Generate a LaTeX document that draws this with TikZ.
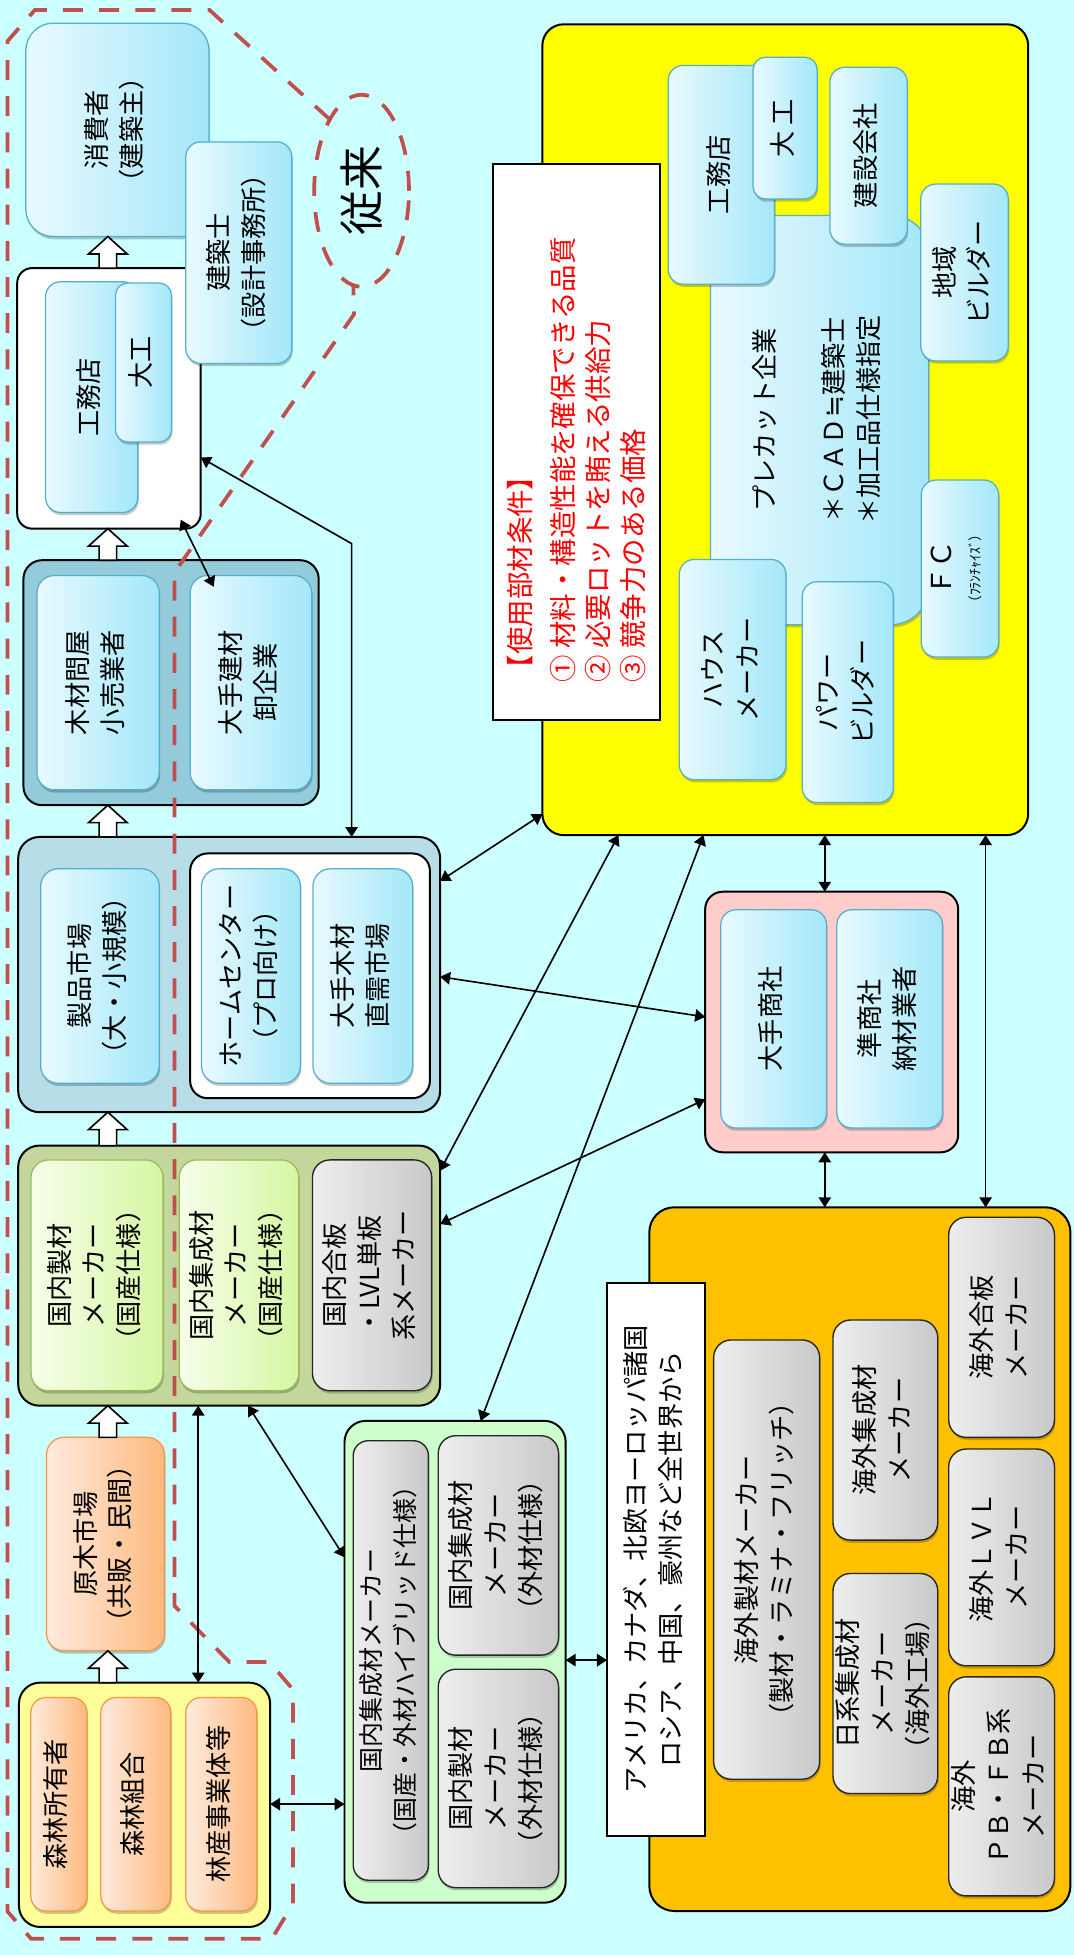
\documentclass[tikz,border=0pt]{standalone}
\usepackage{fontspec}
\usepackage{graphicx}
\setmainfont{Noto Sans CJK JP}
\newfontfamily\dvsym{DejaVu Sans}
\usetikzlibrary{arrows.meta,shadows,shapes.geometric}

\definecolor{bgc}{HTML}{CCFFFF}
\definecolor{bL}{HTML}{E8FAFF}
\definecolor{bR}{HTML}{A3E7F9}
\definecolor{bbord}{HTML}{55AECB}
\definecolor{gL}{HTML}{F5FFEA}
\definecolor{gR}{HTML}{D6F6A2}
\definecolor{gbord}{HTML}{9BBB59}
\definecolor{oL}{HTML}{FFEBDD}
\definecolor{oR}{HTML}{FFB97F}
\definecolor{obord}{HTML}{F79646}
\definecolor{yL}{HTML}{EEEEEE}
\definecolor{yR}{HTML}{C9C9C9}
\definecolor{dashred}{HTML}{C0504D}
\definecolor{tgfill}{HTML}{93CBDA}
\definecolor{sgfill}{HTML}{B7DDE8}
\definecolor{kgfill}{HTML}{C3D69B}
\definecolor{fgfill}{HTML}{FFFF99}
\definecolor{hgfill}{HTML}{CCFFCC}
\definecolor{ylfill}{HTML}{FFFF00}
\definecolor{pkfill}{HTML}{FFCCCC}
\definecolor{ogfill}{HTML}{FFC000}

% rotated (bottom-to-top) centred text block
\newcommand\vtxt[1]{\rotatebox{90}{\begin{tabular}{@{}c@{}}#1\end{tabular}}}
% box from corners: style, name, x1, y1, x2, y2, text
\newcommand\mkbox[7]{\node[#1,minimum width={(#5)-(#3)},minimum height={(#6)-(#4)}] (#2) at ({((#3)+(#5))/2},{((#4)+(#6))/2}) {#7};}
% hollow block arrow pointing up, from tail coordinate to tip coordinate
\newcommand\hollowup[2]{\draw[hollowarr] ([xshift=-7pt]#1) -- ([xshift=-7pt,yshift=-14pt]#2) -- ([xshift=-15.5pt,yshift=-14pt]#2) -- (#2) -- ([xshift=15.5pt,yshift=-14pt]#2) -- ([xshift=7pt,yshift=-14pt]#2) -- ([xshift=7pt]#1) -- cycle;}

\tikzset{
  bxbase/.style={inner sep=0pt, outer sep=0pt, font=\fontsize{21}{28}\selectfont, text=black},
  softshadow/.style={drop shadow={shadow xshift=0.8pt, shadow yshift=-2.2pt, opacity=0.22, fill=black}},
  bluebox/.style={bxbase, draw=bbord, line width=1pt, left color=bL, right color=bR, rounded corners=12pt, softshadow},
  greenbox/.style={bxbase, draw=gbord, line width=1pt, left color=gL, right color=gR, rounded corners=14pt, softshadow},
  orangebox/.style={bxbase, draw=obord, line width=1pt, left color=oL, right color=oR, rounded corners=12pt, softshadow},
  graybox/.style={bxbase, draw=black!85, line width=1.1pt, left color=yL, right color=yR, rounded corners=14pt, softshadow},
  grpbox/.style={bxbase, draw=black, line width=1.6pt, rounded corners=17pt},
  sqbox/.style={bxbase, draw=black, line width=1.6pt, fill=white},
  lnk/.style={draw=black, line width=1.3pt, >={Triangle[length=8pt,width=10pt]}, <->},
  hollowarr/.style={draw=black, line width=1.3pt, fill=white, line join=miter},
  redline/.style={draw=dashred, line width=3pt, dash pattern=on 16pt off 13pt},
}

\begin{document}
\begin{tikzpicture}[x=1pt,y=-1pt]
\useasboundingbox (0,0) rectangle (861,1568);
\fill[bgc] (0,0) rectangle (861,1568);

% ---------- group panels ----------
\mkbox{grpbox,fill=white,rounded corners=12pt}{wg}{13.8}{215}{161}{424}{}
\mkbox{grpbox,fill=tgfill,rounded corners=15pt}{tg}{18.8}{449.3}{255.6}{645.8}{}
\mkbox{grpbox,fill=sgfill}{sg}{14.6}{671.3}{353}{892}{}
\mkbox{grpbox,fill=kgfill}{kg}{14.6}{918.8}{353}{1127.4}{}
\mkbox{grpbox,fill=fgfill}{fg}{15.2}{1349.5}{216.7}{1545.5}{}
\mkbox{grpbox,fill=hgfill}{hg}{276.3}{1139.6}{453.7}{1526}{}
\mkbox{grpbox,fill=ylfill}{yl}{435}{19.5}{824.6}{669.8}{}
\mkbox{grpbox,fill=pkfill,rounded corners=14pt}{pk}{565.6}{715.2}{768.5}{924.2}{}
\mkbox{grpbox,fill=ogfill,rounded corners=20pt}{og}{520.8}{968.3}{858.5}{1532.7}{}

% ---------- distribution chain (left) ----------
\mkbox{bluebox,rounded corners=22pt}{cons}{20.7}{18.6}{167.7}{189.7}{\vtxt{消費者\\（建築主）}}
\mkbox{bluebox}{kom}{36.5}{226}{110.5}{411}{\vtxt{工務店}}
\mkbox{bluebox,rounded corners=10pt}{dai}{92.6}{227}{137.6}{354.5}{\vtxt{大工}}
\mkbox{bluebox}{arch}{149}{113.8}{234}{291.5}{\vtxt{建築士\\（設計事務所）}}

\mkbox{bluebox,rounded corners=14pt}{mt}{29.6}{461.6}{127.7}{633.5}{\vtxt{木材問屋\\小売業者}}
\mkbox{bluebox,rounded corners=14pt}{dk}{152.5}{461.6}{250}{633.5}{\vtxt{大手建材\\卸企業}}

\mkbox{bluebox,rounded corners=14pt}{sm}{32.6}{696.8}{127.7}{868.8}{\vtxt{製品市場\\（大・小規模）}}
\mkbox{sqbox,rounded corners=14pt}{sw}{152.5}{684.5}{344.8}{880.8}{}
\mkbox{bluebox,rounded corners=14pt}{hc}{161.6}{696.8}{241}{868.8}{\vtxt{ホームセンター\\（プロ向け）}}
\mkbox{bluebox,rounded corners=14pt}{dm}{251}{696.8}{331}{868.8}{\vtxt{大手木材\\直需市場}}

\mkbox{greenbox}{ks}{24.9}{930.3}{130.7}{1115.4}{\vtxt{国内製材\\メーカー\\（国産仕様）}}
\mkbox{greenbox}{kj}{143.7}{930.3}{239.6}{1115.4}{\vtxt{国内集成材\\メーカー\\（国産仕様）}}
\mkbox{graybox}{kp}{250.6}{930.3}{346.2}{1115.4}{\vtxt{国内合板\\・LVL単板\\系メーカー}}

\mkbox{orangebox,rounded corners=14pt}{gm}{37.3}{1152.8}{132}{1324}{\vtxt{原木市場\\（共販・民間）}}
\mkbox{orangebox}{fa}{24.7}{1361.5}{69.8}{1532.7}{\vtxt{森林所有者}}
\mkbox{orangebox}{fb}{80.9}{1361.5}{137}{1532.7}{\vtxt{森林組合}}
\mkbox{orangebox}{fc3}{149}{1361.5}{206}{1532.7}{\vtxt{林産事業体等}}

\mkbox{graybox,rounded corners=12pt,font=\fontsize{20}{27}\selectfont}{hh}{283.3}{1155.5}{343.6}{1508}{\vtxt{国内集成材メーカー\\（国産・外材ハイブリッド仕様）}}
\mkbox{graybox}{hs}{351.5}{1151.5}{448}{1327.5}{\vtxt{国内集成材\\メーカー\\（外材仕様）}}
\mkbox{graybox}{hp}{351.5}{1338.8}{448}{1514}{\vtxt{国内製材\\メーカー\\（外材仕様）}}

% ---------- users of precut (right top) ----------
\mkbox{sqbox}{cond}{395.3}{131.6}{529.6}{577.5}{}
\node[bxbase, anchor=south, text=red, font=\fontsize{22}{28}\selectfont] (condt) at (465,547)
  {\rotatebox{90}{\begin{tabular}{@{}l@{}}【使用部材条件】\\[6.7pt]① 材料・構造性能を確保できる品質\\② 必要ロットを賄える供給力\\③ 競争力のある価格\end{tabular}}};

\mkbox{bluebox,rounded corners=30pt}{prec}{569.8}{172.8}{744.8}{501}{\vtxt{プレカット企業\\ \\＊ＣＡＤ{\dvsym ≒}建築士\\＊加工品仕様指定}}
\mkbox{bluebox}{komr}{535.9}{52.5}{621.2}{227.9}{\vtxt{工務店}}
\mkbox{bluebox,rounded corners=10pt}{dair}{604}{45.9}{655.4}{159.6}{\vtxt{大 工}}
\mkbox{bluebox}{ken}{665.6}{53.9}{727.6}{195.8}{\vtxt{建設会社}}
\mkbox{bluebox}{chi}{738.5}{147.6}{808.7}{289.5}{\vtxt{地域\\ビルダー}}
\mkbox{bluebox,font=\fontsize{11}{23}\selectfont}{fcb}{738.8}{385}{801}{527}{\vtxt{{\fontsize{22}{24}\selectfont ＦＣ}\\（ﾌﾗﾝﾁｬｲｽﾞ）}}
\mkbox{bluebox}{hm}{544.8}{448.7}{630.4}{625.3}{\vtxt{ハウス\\メーカー}}
\mkbox{bluebox}{pw}{643.4}{466.5}{716.5}{643.7}{\vtxt{パワー\\ビルダー}}

% ---------- trading companies ----------
\mkbox{bluebox}{ds}{578.1}{729.7}{662.9}{904.7}{\vtxt{大手商社}}
\mkbox{bluebox}{js}{671.2}{729.7}{756}{904.7}{\vtxt{準商社\\納材業者}}

% ---------- overseas suppliers ----------
\mkbox{sqbox,font=\fontsize{21}{28}\selectfont}{am}{486.8}{1029}{565.7}{1472.5}{\vtxt{アメリカ、カナダ、北欧ヨーロッパ諸国\\ロシア、中国、豪州など全世界から}}
\mkbox{graybox}{oa}{572.4}{1074.7}{657.4}{1427}{\vtxt{海外製材メーカー\\（製材・ラミナ・フリッチ）}}
\mkbox{graybox}{ob}{668.1}{1058.7}{752.1}{1235.2}{\vtxt{海外集成材\\メーカー}}
\mkbox{graybox}{oc}{668.1}{1262}{752.1}{1438.5}{\vtxt{日系集成材\\メーカー\\（海外工場）}}
\mkbox{graybox}{od}{760.9}{976.3}{845.7}{1152.8}{\vtxt{海外合板\\メーカー}}
\mkbox{graybox}{oe}{760.9}{1162.2}{845.7}{1336}{\vtxt{海外ＬＶＬ\\メーカー}}
\mkbox{graybox}{of}{760.9}{1344.9}{845.7}{1520.6}{\vtxt{海外\\ＰＢ・ＦＢ系\\メーカー}}

% ---------- former-route outline ----------
\node[redline, ellipse, inner sep=0pt, outer sep=0pt, minimum width=76pt, minimum height=154pt,
      font=\fontsize{36}{40}\selectfont] (jurai) at (290,153) {\rotatebox{90}{従来}};
\draw[redline] (jurai.114) -- (168,8) -- (28,8) -- (6,33) -- (6,1533) -- (25,1555)
  -- (218,1555) -- (235,1527) -- (235,1355) -- (216,1333) -- (184,1333) -- (140,1288)
  -- (140,459) -- (284,252) -- (jurai.265);

% ---------- hollow flow arrows ----------
\coordinate (colx) at (86.5,0);
\coordinate (h1a) at (wg.north -| colx);  \coordinate (h1b) at (cons.south -| colx);
\coordinate (h2a) at (tg.north -| colx);  \coordinate (h2b) at (wg.south -| colx);
\coordinate (h3a) at (sg.north -| colx);  \coordinate (h3b) at (tg.south -| colx);
\coordinate (h4a) at (kg.north -| colx);  \coordinate (h4b) at (sg.south -| colx);
\coordinate (h5a) at (gm.north -| colx);  \coordinate (h5b) at (kg.south -| colx);
\coordinate (h6a) at (fg.north -| colx);  \coordinate (h6b) at (gm.south -| colx);
\hollowup{h1a}{h1b}
\hollowup{h2a}{h2b}
\hollowup{h3a}{h3b}
\hollowup{h4a}{h4b}
\hollowup{h5a}{h5b}
\hollowup{h6a}{h6b}

% ---------- two-way links ----------
\draw[lnk] (wg.east |- 0,367) -- (282,436) -- (sg.north -| 282,0);
\draw[lnk, shorten <=-8pt, shorten >=-10pt] (wg.south -| 148.5,0) -- (dk.north -| 167,0);
\draw[lnk] (sg.east |- 0,706.6) -- (yl.west |- 0,653);
\draw[lnk] (sg.east |- 0,783.4) -- (pk.west |- 0,815.6);
\draw[lnk] (kg.east |- 0,939) -- (yl.south -| 496,0);
\draw[lnk] (kg.east |- 0,981.7) -- (pk.west |- 0,881.7);
\draw[lnk] (hg.north -| 385.5,0) -- (yl.south -| 564.2,0);
\draw[lnk] (kg.south -| 199,0) -- (hg.west |- 0,1249);
\draw[lnk] (kg.south -| 159,0) -- (fg.north -| 159,0);
\draw[lnk] (fg.east |- 0,1447) -- (hg.west |- 0,1447);
\draw[lnk] (hg.east |- 0,1331.5) -- (am.west |- 0,1331.5);
\draw[lnk] (yl.south -| 661.5,0) -- (pk.north -| 661.5,0);
\draw[lnk] (pk.south -| 661.5,0) -- (og.north -| 661.5,0);
\draw[lnk] (yl.south -| 790.5,0) -- (og.north -| 790.5,0);
\end{tikzpicture}
\end{document}
